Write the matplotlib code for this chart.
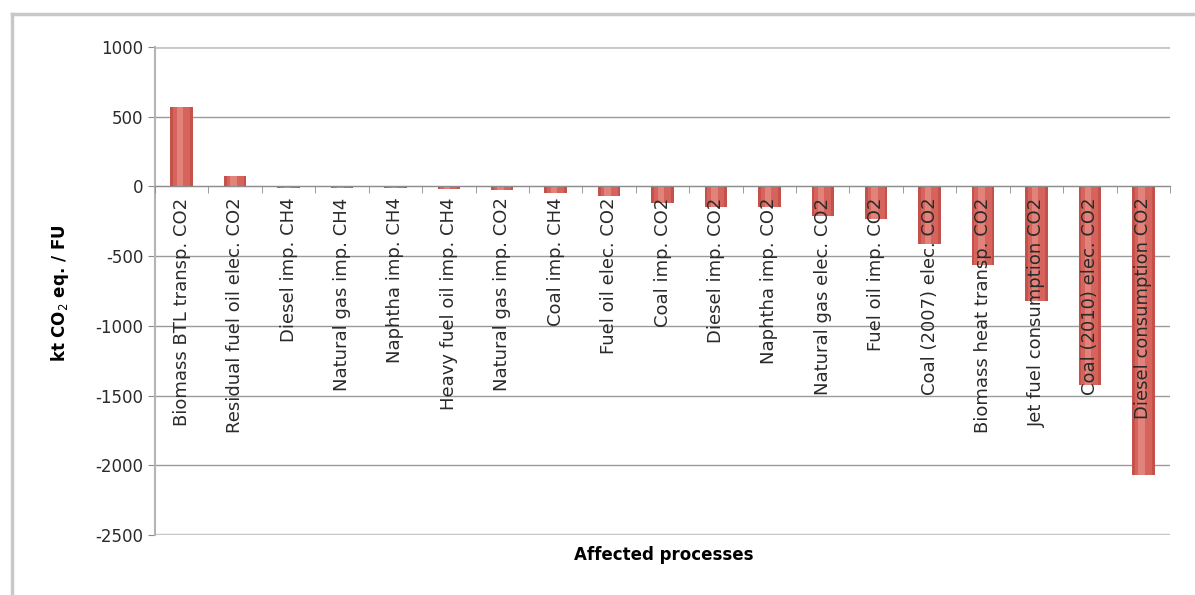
import numpy as np
import matplotlib.pyplot as plt
from matplotlib.lines import Line2D

plt.rcParams['font.family'] = ['DejaVu Sans']
plt.rcParams['axes.unicode_minus'] = False

processes = ['Biomass BTL transp. CO2', 'Residual fuel oil elec. CO2', 'Diesel imp. CH4',
             'Natural gas imp. CH4', 'Naphtha imp. CH4', 'Heavy fuel oil imp. CH4',
             'Natural gas imp. CO2', 'Coal imp. CH4', 'Fuel oil elec. CO2', 'Coal imp. CO2',
             'Diesel imp. CO2', 'Naphtha imp. CO2', 'Natural gas elec. CO2', 'Fuel oil imp. CO2',
             'Coal (2007) elec. CO2', 'Biomass heat transp. CO2', 'Jet fuel consumption CO2',
             'Coal (2010) elec. CO2', 'Diesel consumption CO2']
emissions = [570, 75, -8, -12, -12, -22, -25, -45, -70, -122, -144, -145, -215, -237,
             -410, -560, -820, -1425, -2070]
yticks = [1000, 500, 0, -500, -1000, -1500, -2000, -2500]

fig = plt.figure(figsize=(11.95, 5.95), dpi=100)
ax = fig.add_axes([155/1195, 1 - 535/595, 1015/1195, 488/595])

x = np.arange(len(processes))
# cylinder-ish bars: darker edges, lighter middle, highlight stripe
ax.bar(x, emissions, width=0.42, color='#c4524b', zorder=2)
ax.bar(x, emissions, width=0.32, color='#d6645c', zorder=2)
ax.bar(x - 0.03, emissions, width=0.12, color='#e2837b', zorder=2)

ax.set_xlim(-0.5, len(processes) - 0.5)
ax.set_ylim(-2500, 1000)
ax.set_yticks(yticks)
ax.yaxis.grid(True, color='#9a9a9a', linewidth=1)
ax.yaxis.set_zorder(0.5)
ax.xaxis.set_zorder(5)

ax.spines['bottom'].set_position(('data', 0))
ax.spines['bottom'].set_color('#8c8c8c')
ax.spines['bottom'].set_zorder(3)
ax.spines['top'].set_visible(False)
ax.spines['right'].set_visible(False)
ax.spines['left'].set_color('#b4b4b4')
ax.spines['left'].set_linewidth(1.5)

ax.set_xticks(x)
ax.set_xticklabels(processes, rotation=90, va='top', ha='center', fontsize=13, color='#2a2a2a')
ax.tick_params(axis='x', length=0, pad=8)
ax.set_xticks(np.arange(-0.5, len(processes)), minor=True)
ax.tick_params(axis='x', which='minor', length=5, color='#8c8c8c', direction='out')
ax.tick_params(axis='y', length=5, color='#8c8c8c', labelsize=12, labelcolor='#2a2a2a')

# light lines at top and bottom
ax.axhline(1000, color='#c8c8c8', linewidth=2, zorder=1)
ax.axhline(-2500, color='#c8c8c8', linewidth=2.5, zorder=1)

fig.text(60/1195, 1 - 293/595, 'kt CO$_2$ eq. / FU', rotation=90, ha='center', va='center',
         fontsize=12, fontweight='bold')
fig.text(664/1195, 1 - 555/595, 'Affected processes', ha='center', va='center',
         fontsize=12, fontweight='bold')

# outer chart frame
fig.add_artist(Line2D([12/1195, 1], [1 - 14/595, 1 - 14/595], color='#c8c8c8', linewidth=2.5,
                      transform=fig.transFigure))
fig.add_artist(Line2D([12/1195, 12/1195], [0, 1 - 14/595], color='#c8c8c8', linewidth=2.5,
                      transform=fig.transFigure))

fig.savefig('out.png', dpi=100)
